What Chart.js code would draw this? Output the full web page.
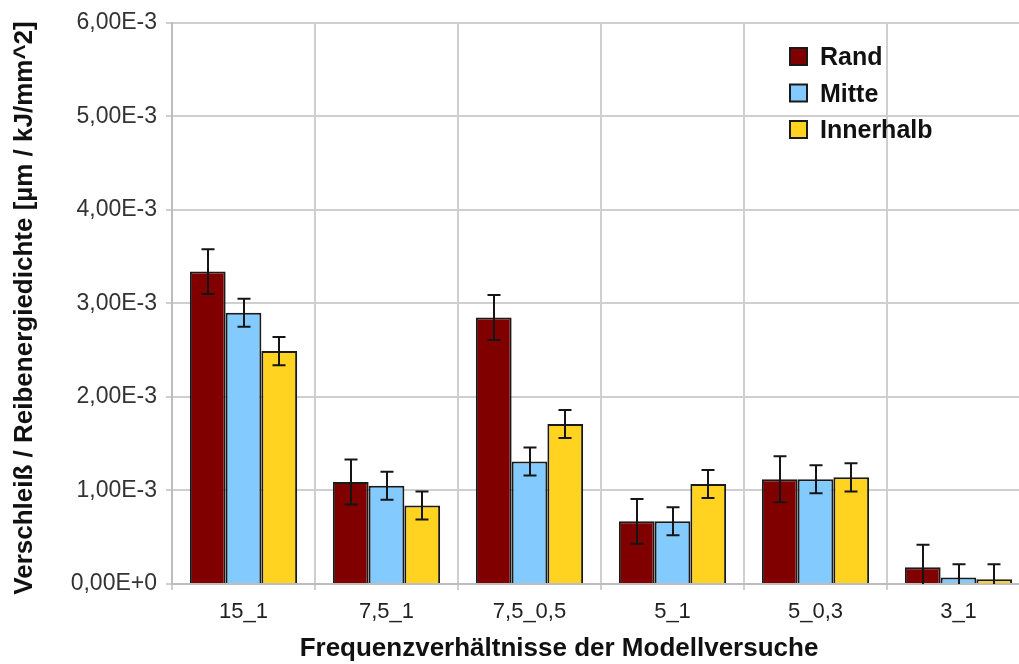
<!DOCTYPE html>
<html>
<head>
<meta charset="utf-8">
<script src="https://cdn.jsdelivr.net/npm/chart.js@4"></script>
<style>
  html, body { margin: 0; padding: 0; background: #ffffff; overflow: hidden; }
  #wrap { position: absolute; left: 0; top: 0; width: 1040px; height: 664px; }
</style>
</head>
<body>
<div id="wrap"><canvas id="chart" width="1040" height="664"></canvas></div>
<script>
// Frequency ratios of the model tests
const categories = ['15_1', '7,5_1', '7,5_0,5', '5_1', '5_0,3', '3_1'];

// Wear per friction energy density [µm / kJ/mm^2]
const rand      = [3.34e-3, 1.09e-3, 2.85e-3, 0.67e-3, 1.12e-3, 0.18e-3];
const mitte     = [2.90e-3, 1.05e-3, 1.31e-3, 0.67e-3, 1.12e-3, 0.07e-3];
const innerhalb = [2.49e-3, 0.84e-3, 1.71e-3, 1.07e-3, 1.14e-3, 0.05e-3];

// Symmetric error (± deviation)
const randErr      = [0.24e-3, 0.24e-3, 0.24e-3, 0.24e-3, 0.245e-3, 0.24e-3];
const mitteErr     = [0.15e-3, 0.15e-3, 0.15e-3, 0.15e-3, 0.15e-3, 0.14e-3];
const innerhalbErr = [0.15e-3, 0.15e-3, 0.15e-3, 0.15e-3, 0.15e-3, 0.16e-3];

const yTickLabels = ['0,00E+0', '1,00E-3', '2,00E-3', '3,00E-3', '4,00E-3', '5,00E-3', '6,00E-3'];

const seriesNames = ['Rand', 'Mitte', 'Innerhalb'];
const seriesColors = ['#800000', '#83caff', '#ffd320'];

const yTitle = 'Verschleiß / Reibenergiedichte [µm / kJ/mm^2]';
const xTitle = 'Frequenzverhältnisse der Modellversuche';

// Error whiskers drawn from each dataset's "errors" array
const errorBars = {
  id: 'errorBars',
  afterDatasetsDraw(chart) {
    const ctx = chart.ctx;
    const y = chart.scales.y;
    const area = chart.chartArea;
    ctx.save();
    ctx.beginPath();
    ctx.rect(area.left, area.top - 2, area.right - area.left, area.bottom - area.top + 2);
    ctx.clip();
    ctx.strokeStyle = '#151515';
    ctx.lineWidth = 2;
    chart.data.datasets.forEach((ds, di) => {
      const meta = chart.getDatasetMeta(di);
      meta.data.forEach((bar, i) => {
        const v = ds.data[i], e = ds.errors[i];
        const x = Math.round(bar.x);
        const yt = y.getPixelForValue(v + e);
        const yb = y.getPixelForValue(v - e);
        const cap = 6.5;
        ctx.beginPath();
        ctx.moveTo(x, yt); ctx.lineTo(x, yb);
        ctx.moveTo(x - cap, yt); ctx.lineTo(x + cap, yt);
        ctx.moveTo(x - cap, yb); ctx.lineTo(x + cap, yb);
        ctx.stroke();
      });
    });
    ctx.restore();
  }
};

// Axis titles and the vertical legend
const annotations = {
  id: 'annotations',
  afterDraw(chart) {
    const ctx = chart.ctx;
    ctx.save();
    ctx.fillStyle = '#111111';
    ctx.font = 'bold 26px "Liberation Sans", Arial, sans-serif';
    ctx.textAlign = 'center';
    ctx.textBaseline = 'middle';
    ctx.save();
    ctx.translate(25, 308);
    ctx.rotate(-Math.PI / 2);
    ctx.fillText(yTitle, 0, 0);
    ctx.restore();

    ctx.font = 'bold 26px "Liberation Sans", Arial, sans-serif';
    ctx.textBaseline = 'alphabetic';
    ctx.fillText(xTitle, 559, 656);

    // legend
    const tops = [48, 84.5, 121];
    ctx.font = 'bold 25px "Liberation Sans", Arial, sans-serif';
    ctx.textAlign = 'left';
    chart.data.datasets.forEach((ds, i) => {
      ctx.fillStyle = ds.backgroundColor;
      ctx.fillRect(790, tops[i], 17, 17);
      ctx.strokeStyle = '#1a1a1a';
      ctx.lineWidth = 2;
      ctx.strokeRect(790, tops[i], 17, 17);
      ctx.fillStyle = '#111111';
      ctx.fillText(ds.label, 820, tops[i] + 17);
    });
    ctx.restore();
  }
};

const datasets = [rand, mitte, innerhalb].map((vals, i) => ({
  label: seriesNames[i],
  data: vals,
  errors: [randErr, mitteErr, innerhalbErr][i],
  backgroundColor: seriesColors[i],
  borderColor: '#1a1a1a',
  borderWidth: 2,
  categoryPercentage: 0.75,
  barPercentage: 1.0
}));

new Chart(document.getElementById('chart'), {
  type: 'bar',
  data: { labels: categories, datasets },
  options: {
    responsive: false,
    animation: false,
    devicePixelRatio: 1,
    layout: { padding: { top: 22, right: 10, left: 0, bottom: 0 } },
    plugins: {
      legend: { display: false },
      tooltip: { enabled: false }
    },
    scales: {
      x: {
        afterFit(scale) { scale.height = 80; },
        grid: { color: '#cfcfcf', lineWidth: 2, tickLength: 6, offset: true },
        border: { color: '#bdbdbd', width: 2 },
        ticks: {
          color: '#222222',
          padding: 9,
          font: { family: '"Liberation Sans", Arial, sans-serif', size: 22 }
        }
      },
      y: {
        min: 0,
        max: 6e-3,
        afterFit(scale) { scale.width = 172; },
        afterBuildTicks(scale) {
          scale.ticks = yTickLabels.map((_, i) => ({ value: i * 1e-3 }));
        },
        grid: { color: '#cfcfcf', lineWidth: 2, tickLength: 6 },
        border: { color: '#bdbdbd', width: 2 },
        ticks: {
          color: '#333333',
          padding: 9,
          font: { family: '"Liberation Sans", Arial, sans-serif', size: 23 },
          callback: (value, index) => yTickLabels[index]
        }
      }
    }
  },
  plugins: [errorBars, annotations]
});
</script>
</body>
</html>
